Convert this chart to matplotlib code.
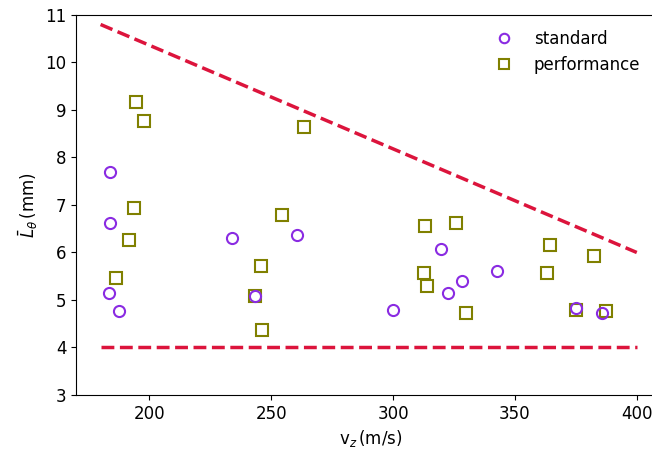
import matplotlib
matplotlib.use("Agg")
import matplotlib.pyplot as plt

# standard configuration
std_v = [184.0, 184.0, 183.6, 187.7, 234.0, 260.7, 243.4, 300.0, 319.7,
         322.5, 328.3, 342.6, 375.0, 385.7]
std_L = [7.69, 6.62, 5.15, 4.77, 6.31, 6.37, 5.08, 4.79, 6.07,
         5.15, 5.40, 5.61, 4.83, 4.73]

# performance configuration
perf_v = [194.7, 198.0, 193.9, 191.8, 186.5, 243.4, 245.9, 246.3, 254.5,
          263.5, 313.1, 325.8, 312.7, 313.9, 329.9, 363.1, 364.3, 382.4,
          375.0, 387.3]
perf_L = [9.17, 8.77, 6.94, 6.26, 5.46, 5.08, 5.72, 4.37, 6.79,
          8.64, 6.56, 6.62, 5.57, 5.29, 4.73, 5.57, 6.16, 5.93,
          4.79, 4.77]

# bounding lines
upper_v = [180, 400]
upper_L = [10.8, 6.0]
lower_v = [180, 400]
lower_L = [4.0, 4.0]

plt.rcParams["font.size"] = 12

fig = plt.figure(figsize=(6.52, 4.49), dpi=100)
ax = fig.add_axes([0.1169, 0.1203, 0.9046, 0.8463])

ax.plot(upper_v, upper_L, "--", color="#dc143c", lw=2.5, zorder=1)
ax.plot(lower_v, lower_L, "--", color="#dc143c", lw=2.5, zorder=1)

ax.plot(std_v, std_L, "o", mfc="none", mec="#8a2be2", ms=8, mew=1.5,
        ls="none", label="standard", zorder=3)
ax.plot(perf_v, perf_L, "s", mfc="none", mec="#808000", ms=8, mew=1.5,
        ls="none", label="performance", zorder=2)

ax.set_xlim(170, 412)
ax.set_ylim(3, 11)
ax.set_xticks([200, 250, 300, 350, 400])
ax.set_yticks(range(3, 12))
ax.set_xlabel(r"v$_z\,$(m/s)")
ax.set_ylabel(r"$\bar{L}_\theta\,$(mm)")

ax.legend(loc="upper right", frameon=False, markerscale=0.85,
          bbox_to_anchor=(1.005, 0.967), bbox_transform=fig.transFigure)

fig.savefig("out.png", dpi=100)
